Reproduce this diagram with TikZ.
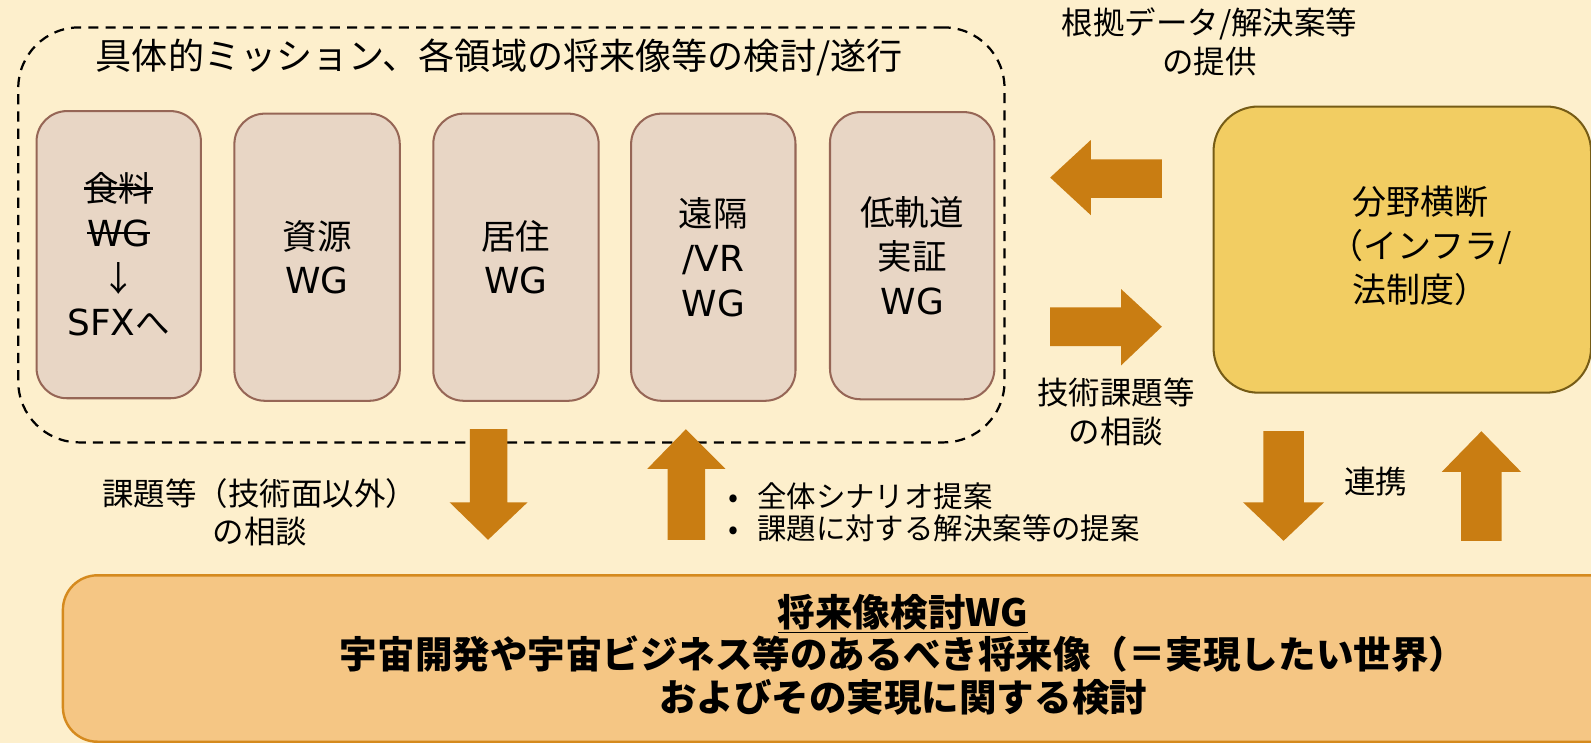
\documentclass[tikz,border=0pt]{standalone}
\usepackage{fontspec}
\setmainfont{Noto Sans CJK JP}
\newfontfamily\latfont{DejaVu Sans}[Scale=1.04]
\newcommand{\lat}[1]{{\latfont #1}}
\newsavebox{\strikebox}
\newcommand{\mystrike}[2][0.36em]{\sbox{\strikebox}{#2}\rlap{\raisebox{#1}{\rule{\wd\strikebox}{0.065em}}}\usebox{\strikebox}}
\definecolor{bgc}{RGB}{253,239,204}
\definecolor{wgfill}{RGB}{232,214,197}
\definecolor{wgborder}{RGB}{150,102,86}
\definecolor{yfill}{RGB}{242,205,98}
\definecolor{yborder}{RGB}{118,92,22}
\definecolor{bfill}{RGB}{245,198,132}
\definecolor{bborder}{RGB}{213,138,30}
\definecolor{arrowc}{RGB}{201,125,18}
\begin{document}
\begin{tikzpicture}[x=0.5pt,y=-0.5pt,
  wg/.style={draw=wgborder, fill=wgfill, line width=1pt, rounded corners=15pt,
    minimum width=81pt, minimum height=141.5pt, inner sep=0pt, align=center,
    font=\fontsize{17}{22}\selectfont},
  dashbox/.style={draw=black, dash pattern=on 5pt off 3.5pt, line width=1.1pt,
    rounded corners=30pt, inner sep=0pt},
  lbl/.style={align=center, inner sep=0pt, font=\fontsize{15.5}{19}\selectfont},
  blockarrow/.style={fill=arrowc, draw=none}]
\useasboundingbox (0,0) rectangle (1568,732);
\fill[bgc] (0,0) rectangle (1568,732);

% group box
\node[dashbox, minimum width=486pt, minimum height=204.5pt] (group) at (504,231.5) {};
\node[inner sep=0pt, font=\fontsize{17.8}{21}\selectfont] (title) at (492,57)
  {具体的ミッション、各領域の将来像等の検討/遂行};

% WG boxes
\node[wg] (food) at (117,251) {\mystrike{食料}\\\mystrike[0.36em]{\lat{WG}}\\↓\\\lat{SFX}へ};
\node[wg, minimum width=81.5pt] (res) at (312.5,253.5) {資源\\\lat{WG}};
\node[wg, minimum width=81.5pt] (hab) at (508.5,253.5) {居住\\\lat{WG}};
\node[wg] (vr) at (703,253.5) {遠隔\\\lat{/VR}\\\lat{WG}};
\node[wg] (leo) at (899,252) {低軌道\\実証\\\lat{WG}};

% cross-field box
\node[draw=yborder, fill=yfill, line width=1pt, rounded corners=22pt,
  minimum width=186pt, minimum height=141pt, inner sep=0pt] (cross) at (1382,246) {};
\node[align=center, inner sep=0pt, font=\fontsize{16.75}{21.75}\selectfont] (crosstxt)
  at (1400,242) {分野横断\\（インフラ/\\法制度）};

% bottom box
\node[draw=bborder, fill=bfill, line width=1.2pt, rounded corners=17pt,
  minimum width=829pt, minimum height=82pt, inner sep=0pt] (future) at (891,649) {};
\node[align=center, inner sep=0pt, font=\fontsize{18.5}{21}\bfseries\selectfont] (futuretxt)
  at (890,645) {\underline{将来像検討WG}\\宇宙開発や宇宙ビジネス等のあるべき将来像（＝実現したい世界）\\およびその実現に関する検討};

% block arrows between group and cross box
\fill[blockarrow] (1035,175) -- (1075,138) -- (1075,157) -- (1145,157) -- (1145,195) -- (1075,195) -- (1075,212) -- cycle;
\fill[blockarrow] (1145,322) -- (1105,285) -- (1105,303) -- (1035,303) -- (1035,341) -- (1105,341) -- (1105,360) -- cycle;
% group <-> future
\fill[blockarrow] (481,532) -- (443,495) -- (463,495) -- (463,423) -- (500,423) -- (500,495) -- (520,495) -- cycle;
\fill[blockarrow] (676,423) -- (638,462) -- (658,462) -- (658,532) -- (695,532) -- (695,462) -- (715,462) -- cycle;
% cross <-> future
\fill[blockarrow] (1265,533) -- (1225,495) -- (1245,495) -- (1245,425) -- (1285,425) -- (1285,495) -- (1305,495) -- cycle;
\fill[blockarrow] (1460,425) -- (1421,465) -- (1440,465) -- (1440,533) -- (1480,533) -- (1480,465) -- (1499,465) -- cycle;

% labels
\node[lbl] (provide) at (1192,41) {根拠データ/解決案等\\の提供};
\node[lbl] (consult) at (1100,406) {技術課題等\\の相談};
\node[lbl] (nontech) at (256,505) {課題等（技術面以外）\\の相談};
\node[lbl] (link) at (1356,475) {連携};
\node[align=left, inner sep=0pt, anchor=west, font=\fontsize{14.5}{16}\selectfont] (bullets)
  at (718,505) {•\hspace{9pt}全体シナリオ提案\\•\hspace{9pt}課題に対する解決案等の提案};
\end{tikzpicture}
\end{document}
